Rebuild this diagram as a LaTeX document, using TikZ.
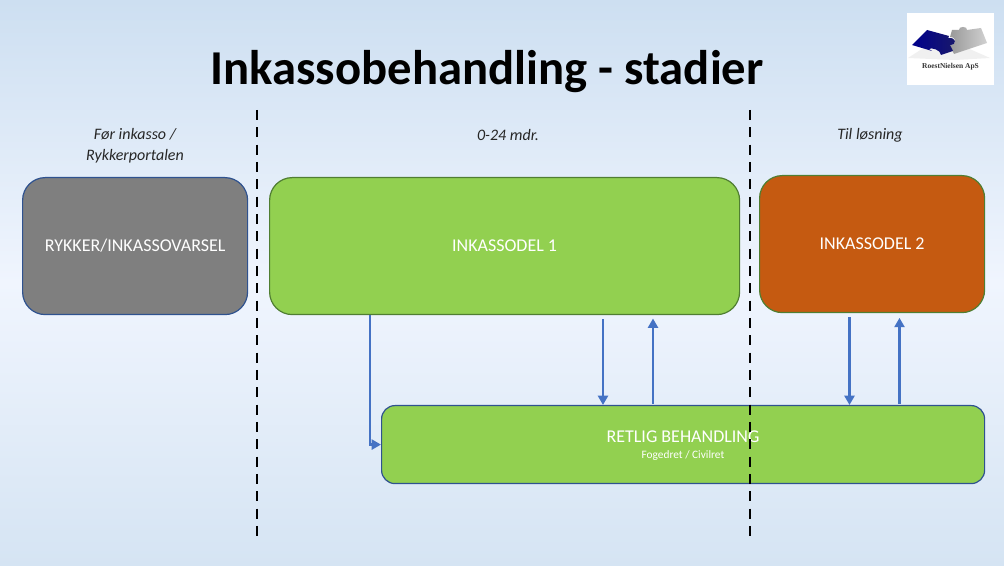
\documentclass[tikz,border=0pt]{standalone}
\usepackage{fontspec}
\setmainfont{Carlito}
\newfontfamily\logofont{Liberation Serif}
\usetikzlibrary{arrows.meta}
\definecolor{skytop}{HTML}{CDDFF1}
\definecolor{skymid}{HTML}{F0F5FE}
\definecolor{skybot}{HTML}{D5E4F3}
\definecolor{leaf}{HTML}{92D050}
\definecolor{rust}{HTML}{C55A11}
\definecolor{slate}{HTML}{7F7F7F}
\definecolor{edgeblue}{HTML}{2F528F}
\definecolor{edgegreen}{HTML}{507E32}
\definecolor{flowblue}{HTML}{4472C4}
\begin{document}
\begin{tikzpicture}[
    x=0.75pt, y=-0.75pt,
    stage/.style={draw=#1, line width=0.9pt, rounded corners=17pt, inner sep=0pt,
        text=white, font=\fontsize{13.5}{16}\selectfont, anchor=north west},
    stage/.default=edgeblue,
    period/.style={font=\fontsize{12}{15.5}\selectfont\itshape, align=center, text=black!85},
    flow/.style={draw=flowblue, line width=2.2pt, -{Triangle[length=7pt,width=7.5pt]}},
    divider/.style={black, line width=2.2pt, dash pattern=on 7.5pt off 5.5pt}
]

    % Background
    \useasboundingbox (0,0) rectangle (1004,566);
    \shade[top color=skytop, bottom color=skymid] (0,0) rectangle (1004,283);
    \shade[top color=skymid, bottom color=skybot] (0,283) rectangle (1004,566);

    % Title
    \node (title) at (487,72) {\fontsize{36.5}{40}\selectfont\bfseries Inkassobehandling - stadier};

    % Logo
    \fill[white] (907,13) rectangle (994,85);
    \fill[gray!12] (908,58) -- (925,47) -- (965,47) -- (990,58) -- (955,60) -- cycle;
    \shade[left color=black!40, right color=black!18]
        (952,30) -- (959,30) .. controls (958,26) and (968,26) .. (967,30) -- (981,28) -- (987,43)
        -- (954,54) -- (950,45) .. controls (957,45) and (957,37) .. (950,37) -- cycle;
    \shade[left color=blue!55!black, right color=blue!35!black!90]
        (912,45) -- (927,30) -- (949,36) -- (948,38) .. controls (957,37) and (957,45) .. (950,45)
        -- (953,51) -- (941,55) .. controls (941,50) and (931,47) .. (929,49) -- (932,51) -- cycle;
    \node[font=\logofont\bfseries\fontsize{5.6}{6}\selectfont, text=black!80] (logotext) at (950.5,67) {RoestNielsen ApS};

    % Stages
    \node[stage, fill=slate, minimum width=168.75pt, minimum height=102.75pt] (varsel) at (22,177) {RYKKER/INKASSOVARSEL};
    \node[stage=edgegreen, fill=leaf, minimum width=352.5pt, minimum height=102.75pt] (del1) at (269,177) {INKASSODEL 1};
    \node[stage=edgegreen, fill=rust, minimum width=168.75pt, minimum height=102.75pt] (del2) at (759,175) {INKASSODEL 2};
    \node[stage, fill=leaf, rounded corners=10pt, minimum width=452.25pt, minimum height=58.5pt] (retlig) at (381,405) {};
    \node[text=white, font=\fontsize{13.5}{16}\selectfont] (retligtext) at (683,437) {RETLIG BEHANDLING};
    \node[text=white, font=\fontsize{8.5}{10}\selectfont] (retligsub) at (683,456) {Fogedret / Civilret};

    % Period labels
    \node[period] (before) at (135,146) {Før inkasso /\\Rykkerportalen};
    \node[period] (during) at (508,135) {0-24 mdr.};
    \node[period] (after) at (870,135) {Til løsning};

    % Dividers
    \coordinate (cut1top) at (257,110);
    \coordinate (cut1bot) at (257,538);
    \coordinate (cut2top) at (750,110);
    \coordinate (cut2bot) at (750,538);
    \draw[divider] (cut1top) -- (cut1bot);
    \draw[divider] (cut2top) -- (cut2bot);

    % Connectors
    \coordinate (drop) at (370,0);
    \coordinate (down1) at (603,0);
    \coordinate (up1) at (653,0);
    \coordinate (down2) at (849.5,0);
    \coordinate (up2) at (899.5,0);
    \draw[flow, rounded corners=0pt] (drop |- del1.south) -- (drop |- retlig.west) -- (retlig.west);
    \draw[flow, shorten <=3pt] (down1 |- del1.south) -- (down1 |- retlig.north);
    \draw[flow, shorten <=1pt, shorten >=2.5pt] (up1 |- retlig.north) -- (up1 |- del1.south);
    \draw[flow, shorten <=3pt] (down2 |- del2.south) -- (down2 |- retlig.north);
    \draw[flow, shorten <=1pt, shorten >=3.5pt] (up2 |- retlig.north) -- (up2 |- del2.south);

\end{tikzpicture}
\end{document}
